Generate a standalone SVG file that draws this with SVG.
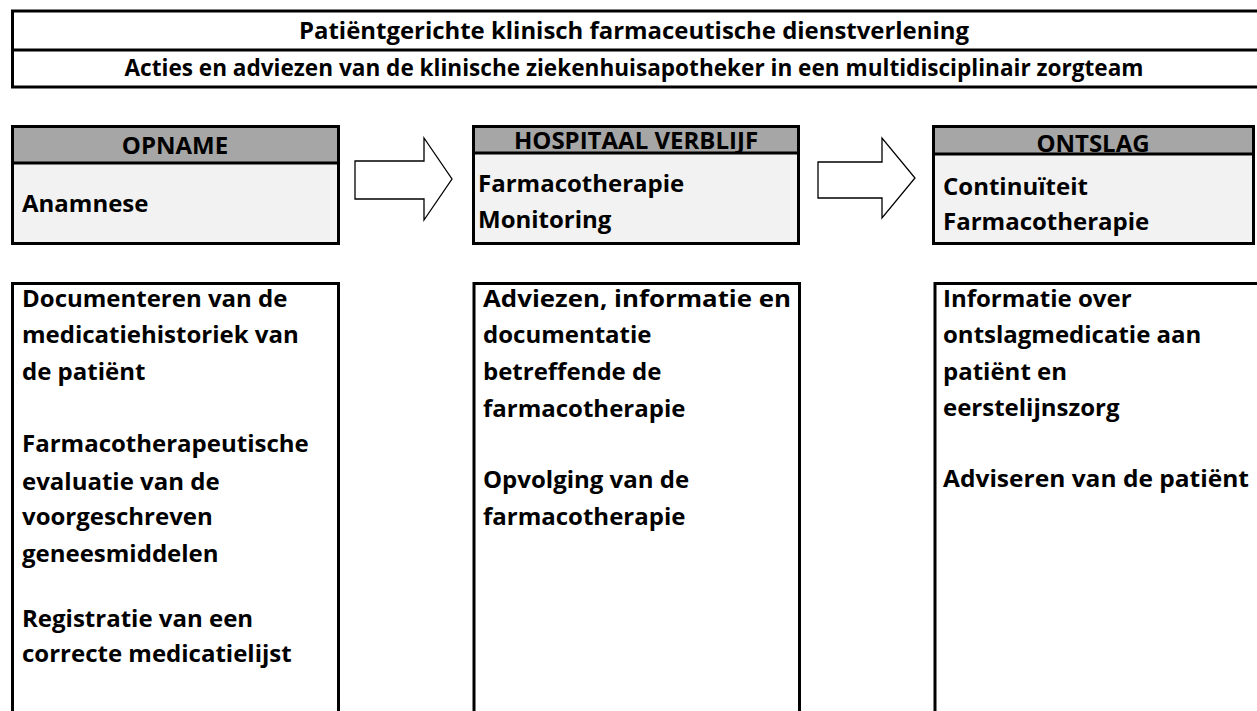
<svg xmlns="http://www.w3.org/2000/svg" width="1257" height="711" viewBox="0 0 1257 711">
<style>
.t{font-family:"Open Sans","Liberation Sans",sans-serif;font-weight:bold;font-size:24px;fill:#000}
.c{text-anchor:middle}
.box{fill:#fff;stroke:#000;stroke-width:3}
.hd{fill:#a6a6a6;stroke:#000;stroke-width:3}
.bd{fill:#f2f2f2;stroke:#000;stroke-width:3}
.ln{stroke:#000;stroke-width:3}
.arr{fill:#fff;stroke:#000;stroke-width:1.3;stroke-linejoin:miter}
</style>
<rect width="1257" height="711" fill="#fff"/>
<g id="title">
<rect class="box" x="12.5" y="11" width="1260" height="76"/>
<line class="ln" x1="12" y1="50" x2="1262" y2="50"/>
<text class="t c" x="634" y="39" textLength="670" lengthAdjust="spacingAndGlyphs">Patiëntgerichte klinisch farmaceutische dienstverlening</text>
<text class="t c" x="634" y="76" textLength="1019" lengthAdjust="spacingAndGlyphs">Acties en adviezen van de klinische ziekenhuisapotheker in een multidisciplinair zorgteam</text>
</g>
<g id="opname">
<rect class="bd" x="12.5" y="126.5" width="326" height="117"/>
<rect class="hd" x="12.5" y="126.5" width="326" height="36.5"/>
<text class="t c" x="175" y="154">OPNAME</text>
<text class="t" x="22" y="212">Anamnese</text>
</g>
<g id="hospitaal">
<rect class="bd" x="473.5" y="126.5" width="325" height="117"/>
<rect class="hd" x="473.5" y="126.5" width="325" height="26.5"/>
<text class="t c" x="636" y="149">HOSPITAAL VERBLIJF</text>
<text class="t" x="478" y="192">Farmacotherapie</text>
<text class="t" x="478" y="228">Monitoring</text>
</g>
<g id="ontslag">
<rect class="bd" x="933.5" y="126.5" width="320" height="117"/>
<rect class="hd" x="933.5" y="126.5" width="320" height="27.5"/>
<text class="t c" x="1093" y="152">ONTSLAG</text>
<text class="t" x="943" y="195">Continuïteit</text>
<text class="t" x="943" y="230">Farmacotherapie</text>
</g>
<g id="connectors">
<polygon class="arr" points="355,161 424,161 424,138 452,179 424,220 424,199 355,199"/>
<polygon class="arr" points="818,162 882,162 882,138 915,178 882,218 882,198 818,198"/>
</g>
<g id="opname-detail">
<rect class="box" x="12.5" y="283.5" width="326" height="440"/>
<text class="t" x="22" y="307">Documenteren van de</text>
<text class="t" x="22" y="343">medicatiehistoriek van</text>
<text class="t" x="22" y="380">de patiënt</text>
<text class="t" x="22" y="452">Farmacotherapeutische</text>
<text class="t" x="22" y="490">evaluatie van de</text>
<text class="t" x="22" y="525">voorgeschreven</text>
<text class="t" x="22" y="562">geneesmiddelen</text>
<text class="t" x="22" y="627">Registratie van een</text>
<text class="t" x="22" y="662">correcte medicatielijst</text>
</g>
<g id="hospitaal-detail">
<rect class="box" x="474" y="283.5" width="325.5" height="440"/>
<text class="t" x="483" y="307" textLength="308" lengthAdjust="spacingAndGlyphs">Adviezen, informatie en</text>
<text class="t" x="483" y="343">documentatie</text>
<text class="t" x="483" y="380">betreffende de</text>
<text class="t" x="483" y="417">farmacotherapie</text>
<text class="t" x="483" y="488">Opvolging van de</text>
<text class="t" x="483" y="525">farmacotherapie</text>
</g>
<g id="ontslag-detail">
<rect class="box" x="935" y="283.5" width="340" height="440"/>
<text class="t" x="943" y="307">Informatie over</text>
<text class="t" x="943" y="343">ontslagmedicatie aan</text>
<text class="t" x="943" y="380">patiënt en</text>
<text class="t" x="943" y="416">eerstelijnszorg</text>
<text class="t" x="943" y="487" textLength="306" lengthAdjust="spacingAndGlyphs">Adviseren van de patiënt</text>
</g>
</svg>
